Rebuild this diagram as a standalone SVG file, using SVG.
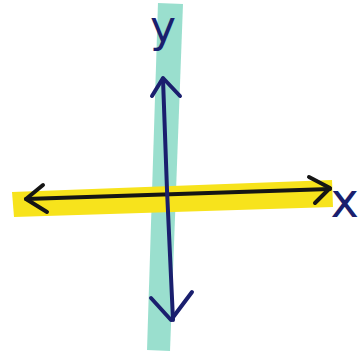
<svg xmlns="http://www.w3.org/2000/svg" width="360" height="354" viewBox="0 0 360 354">
<style>
.ink{fill:none;stroke-linecap:round;stroke-linejoin:round}
.navy{stroke:#1a1f6e;stroke-width:4}
.black{stroke:#151515;stroke-width:4}
.lbl{font-family:"DejaVu Sans","Liberation Sans",sans-serif;fill:#1a1f6e;font-weight:normal}
</style>
<rect width="360" height="354" fill="#ffffff"/>
<g id="y-band"><polygon points="158,3 183,4 170,351 147,350" fill="#8fdcc9" opacity="0.9"/></g>
<g id="x-band"><polygon points="12,192 332,180 333,207 14,217" fill="#f7e31c"/></g>
<g id="connectors">
<path class="ink black" d="M26,199 L330,189"/>
<path class="ink black" d="M43,185 L26,199 L47,212"/>
<path class="ink black" d="M309,177 L330,188 L315,203"/>
<path class="ink navy" d="M163,79 L167,190 L173,320"/>
<path class="ink navy" d="M152,96 L163,78 L180,96"/>
<path class="ink navy" d="M151,298 L171,320 L192,292"/>
</g>
<g id="label-y"><text class="lbl" x="163" y="42" font-size="44" text-anchor="middle">y</text></g>
<g id="label-x"><text class="lbl" x="359" y="217" font-size="48" text-anchor="end">x</text></g>
</svg>
